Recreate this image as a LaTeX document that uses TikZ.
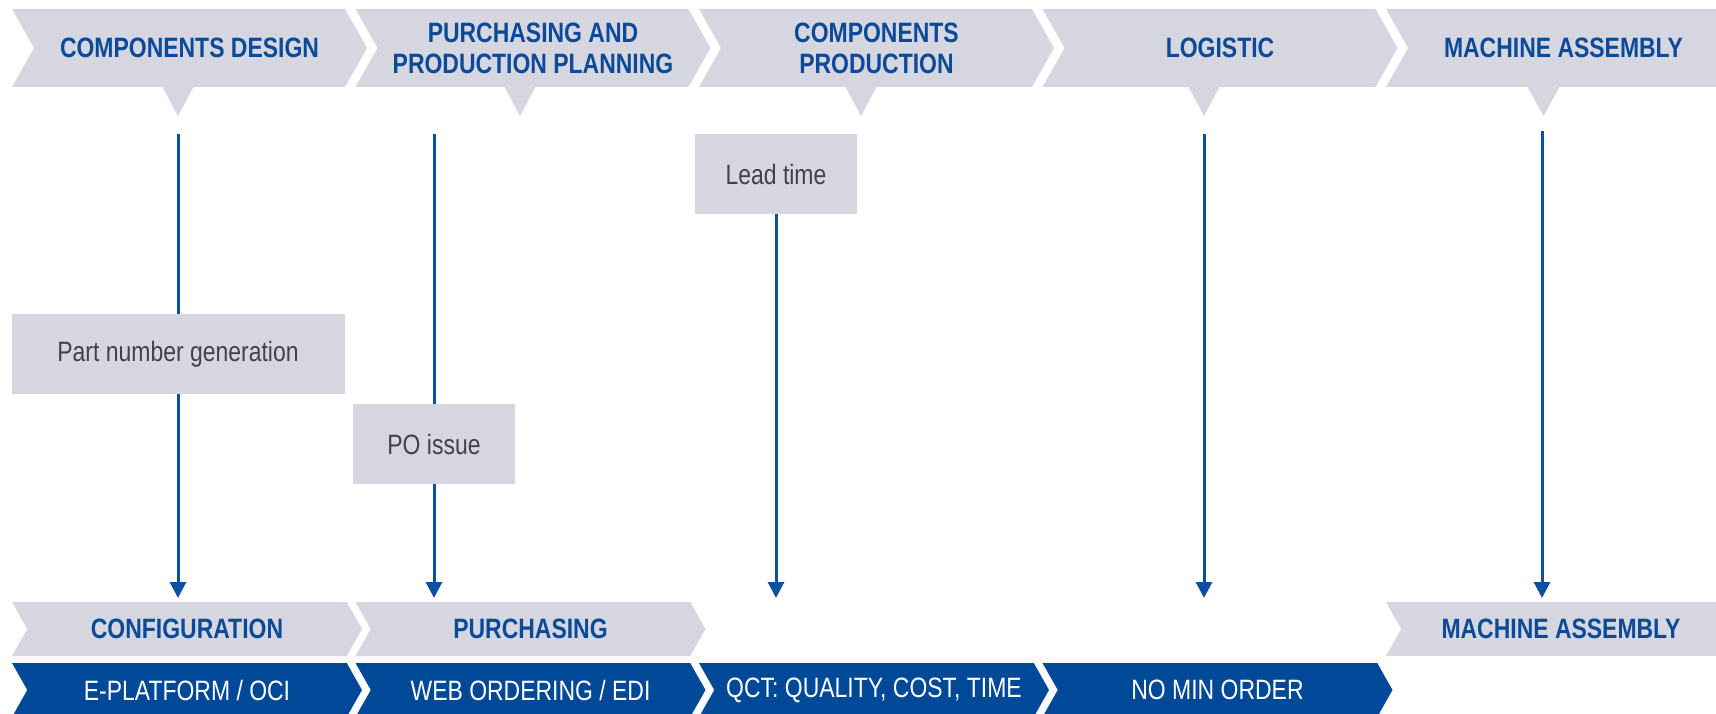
\documentclass[tikz,border=0pt]{standalone}
\usepackage{fontspec}
\setmainfont{Liberation Sans}[FakeStretch=0.82]
\usetikzlibrary{shapes.symbols,arrows.meta}

\definecolor{phasegrey}{HTML}{D6D6E0}
\definecolor{phaseblue}{HTML}{0B4A98}
\definecolor{toolblue}{HTML}{004998}
\definecolor{linkblue}{HTML}{0D4FA3}
\definecolor{stepgrey}{HTML}{41414F}

\begin{document}
\begin{tikzpicture}[x=1pt,y=-1pt,
	phase/.style={shape=signal,signal from=west,signal to=east,signal pointer angle=121,fill=phasegrey,text=phaseblue,font=\fontsize{28}{31}\selectfont\bfseries,align=center,inner sep=0pt,outer sep=0pt,minimum width=355pt,minimum height=78pt},
	process/.style={phase,minimum width=350pt,minimum height=54pt},
	tool/.style={process,fill=toolblue,text=white,font=\fontsize{28}{30}\selectfont},
	stepbox/.style={shape=rectangle,fill=phasegrey,text=stepgrey,font=\fontsize{28}{30}\selectfont,inner sep=0pt,outer sep=0pt,minimum height=80pt},
	link/.style={draw=linkblue,line width=3pt,-{Triangle[width=16pt,length=16pt]}}]
		\useasboundingbox (0,0) rectangle (1716,714);
		\clip (0,0) rectangle (1716,714);
		%%% phases
		\node[phase] (design) at (189.5,48) {COMPONENTS DESIGN};
		\node[phase] (planning) at (533,48) {PURCHASING AND\\PRODUCTION PLANNING};
		\node[phase] (production) at (876.5,48) {COMPONENTS\\PRODUCTION};
		\node[phase] (logistic) at (1220,48) {LOGISTIC};
		\node[phase] (assembly) at (1563.5,48) {MACHINE ASSEMBLY};
		\fill[phasegrey] (162,86) -- (194,86) -- (178,116) -- cycle;
		\fill[phasegrey] (504,86) -- (536,86) -- (520,116) -- cycle;
		\fill[phasegrey] (845,86) -- (877,86) -- (861,116) -- cycle;
		\fill[phasegrey] (1188,86) -- (1220,86) -- (1204,116) -- cycle;
		\fill[phasegrey] (1527,86) -- (1560,86) -- (1543.5,116) -- cycle;
		%%% steps
		\node[stepbox,minimum width=333pt] (partnumber) at (178,354) {Part number generation};
		\node[stepbox,minimum width=162pt] (poissue) at (434,444) {PO issue};
		\node[stepbox,minimum width=162pt] (leadtime) at (776,174) {Lead time};
		%%% processes and tools
		\node[process] (configuration) at (187,629) {CONFIGURATION};
		\node[process] (purchasing) at (530.5,629) {PURCHASING};
		\node[process] (assemblyB) at (1561,629) {MACHINE ASSEMBLY};
		\node[tool] (eplatform) at (187,690) {E-PLATFORM / OCI};
		\node[tool] (webordering) at (530.5,690) {WEB ORDERING / EDI};
		\node[tool] (qct) at (874,690) {QCT: QUALITY, COST, TIME};
		\node[tool] (nominorder) at (1217.5,690) {NO MIN ORDER};
		%%% links
		\coordinate (d1) at (178,134);
		\coordinate (a1) at (178,598);
		\coordinate (d2) at (434,134);
		\coordinate (a2) at (434,598);
		\coordinate (a3) at (776,598);
		\coordinate (d4) at (1204,134);
		\coordinate (a4) at (1204,598);
		\coordinate (d5) at (1542,131);
		\coordinate (a5) at (1542,598);
		\draw[link,-] (d1) -- (partnumber);
		\draw[link] (partnumber) -- (a1);
		\draw[link,-] (d2) -- (poissue);
		\draw[link] (poissue) -- (a2);
		\draw[link] (leadtime) -- (a3);
		\draw[link] (d4) -- (a4);
		\draw[link] (d5) -- (a5);
	\end{tikzpicture}
\end{document}
